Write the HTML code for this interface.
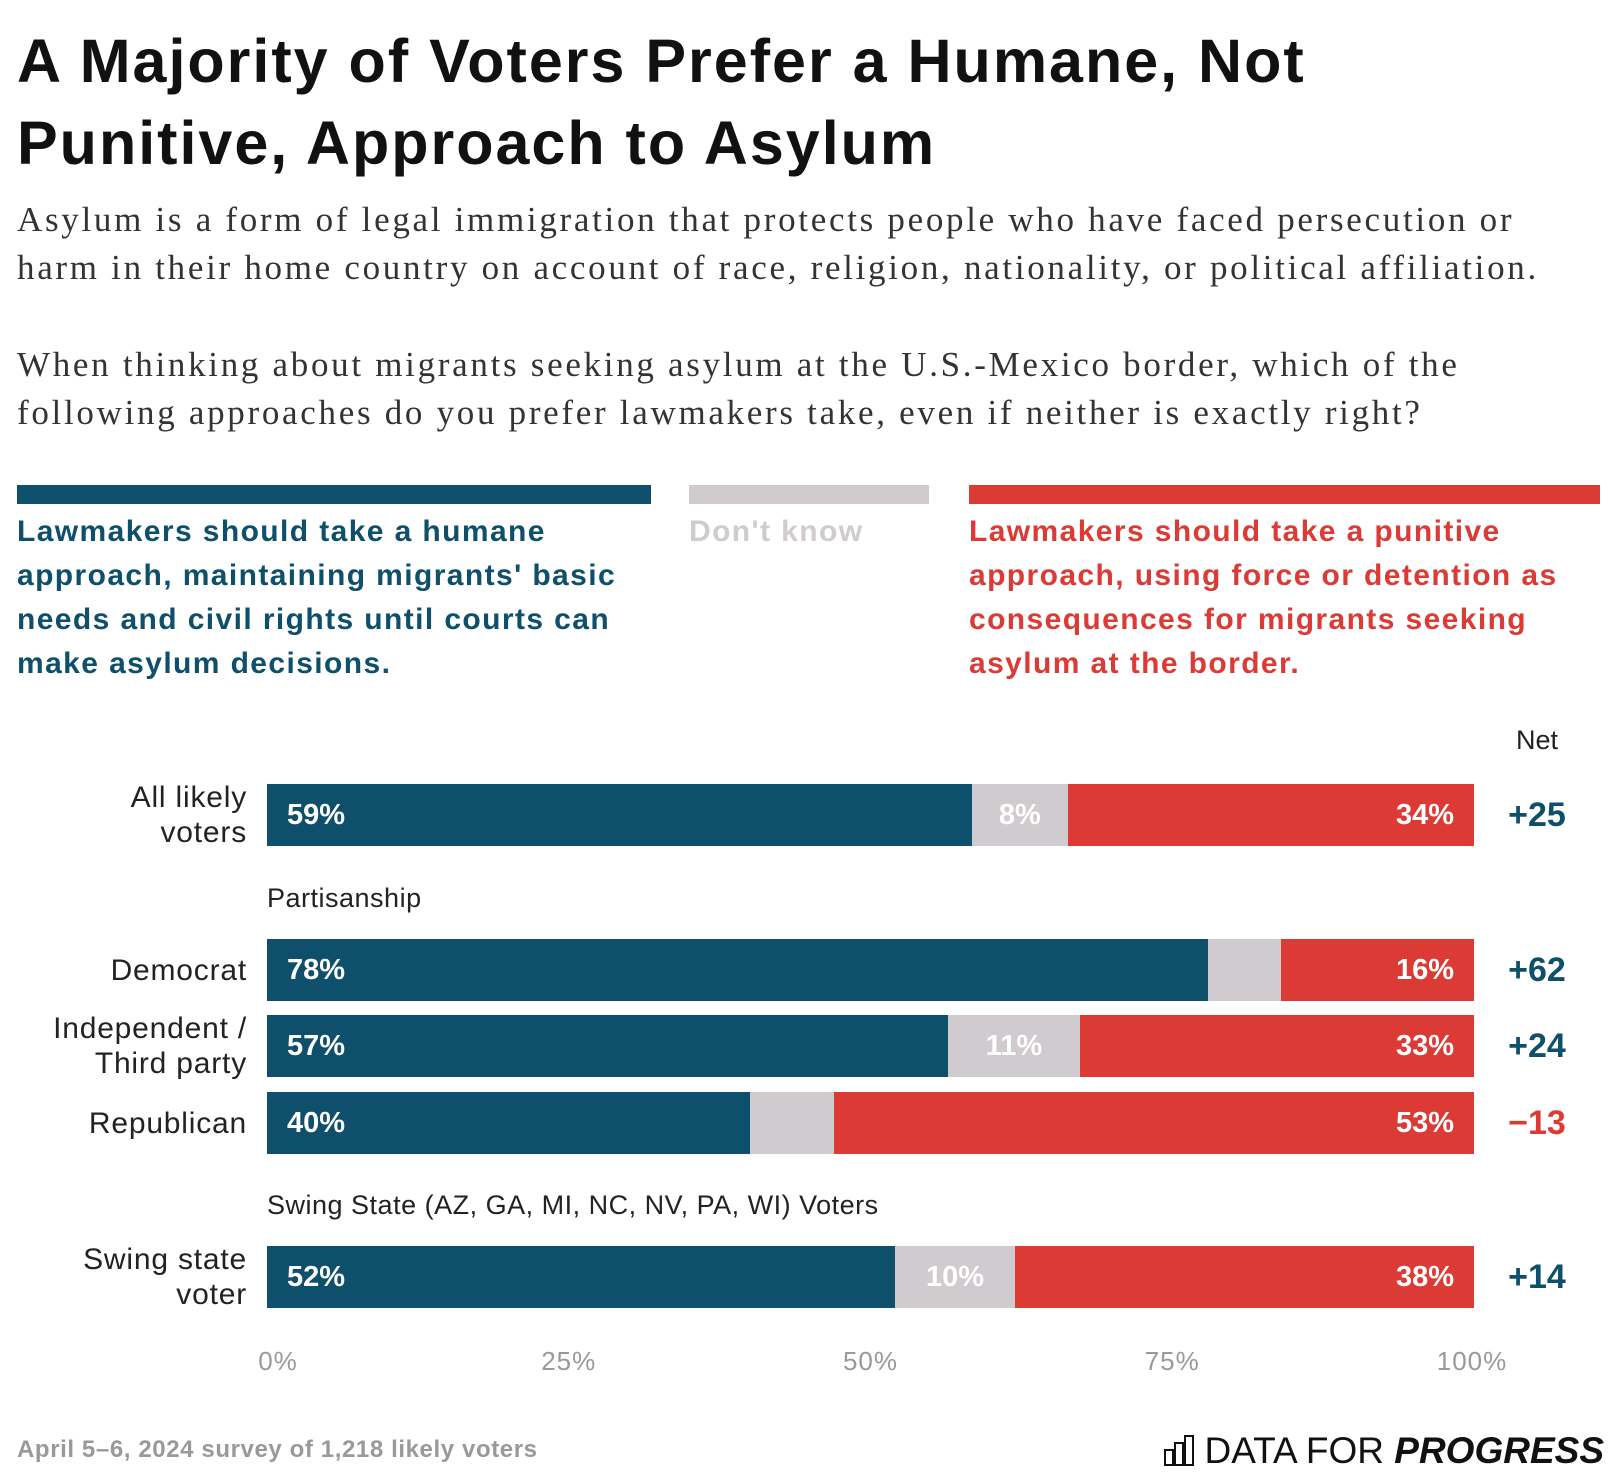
<!DOCTYPE html>
<html><head><meta charset="utf-8"><style>
body{margin:0;background:#fff;width:1616px;height:1482px;position:relative;overflow:hidden;font-family:"Liberation Sans",sans-serif}
.abs{position:absolute}
#title{left:17px;top:20px;font-size:61px;font-weight:bold;line-height:82px;color:#111;letter-spacing:2px}
.sub{left:17px;font-family:"Liberation Serif",serif;font-size:35px;line-height:48px;color:#333;letter-spacing:2.7px;white-space:nowrap}
.leg{font-size:30px;font-weight:bold;line-height:44px;letter-spacing:1.4px;white-space:nowrap}
.lab{font-size:30px;color:#222;text-align:right;right:1369px;line-height:35px;letter-spacing:0.8px}
.sec{font-size:27px;color:#222;letter-spacing:0.5px}
.val{font-size:29px;font-weight:bold;color:#fff}
.net{font-size:34px;font-weight:bold}
.tick{font-size:26px;color:#999;letter-spacing:1px}
</style></head><body>
<div id="title" class="abs">A Majority of Voters Prefer a Humane, Not<br>Punitive, Approach to Asylum</div>
<div class="abs sub" style="top:196px">Asylum is a form of legal immigration that protects people who have faced persecution or<br>harm in their home country on account of race, religion, nationality, or political affiliation.</div>
<div class="abs sub" style="top:341px">When thinking about migrants seeking asylum at the U.S.-Mexico border, which of the<br>following approaches do you prefer lawmakers take, even if neither is exactly right?</div>
<div class="abs" style="left:17px;top:485px;width:634px;height:19px;background:#0e4f6b"></div>
<div class="abs" style="left:689px;top:485px;width:240px;height:19px;background:#cfcbcf"></div>
<div class="abs" style="left:969px;top:485px;width:631px;height:19px;background:#db3a35"></div>
<div class="abs leg" style="left:17px;top:510px;color:#0e4f6b">Lawmakers should take a humane<br>approach, maintaining migrants' basic<br>needs and civil rights until courts can<br>make asylum decisions.</div>
<div class="abs leg" style="left:689px;top:510px;color:#cfcbcf">Don't know</div>
<div class="abs leg" style="left:969px;top:510px;color:#db3a35">Lawmakers should take a punitive<br>approach, using force or detention as<br>consequences for migrants seeking<br>asylum at the border.</div>
<div class="abs" style="left:1516px;top:725px;font-size:27px;color:#222">Net</div>
<div class="abs sec" style="left:267px;top:883px">Partisanship</div>
<div class="abs sec" style="left:267px;top:1190px">Swing State (AZ, GA, MI, NC, NV, PA, WI) Voters</div>
<div id="chart"></div>
<div class="abs" style="left:17px;top:1436px;font-size:24px;font-weight:bold;color:#999;letter-spacing:0.6px">April 5–6, 2024 survey of 1,218 likely voters</div>
<div class="abs" style="right:12px;top:1430px;font-size:37px;color:#111;white-space:nowrap"><span style="display:inline-block;vertical-align:-3px;margin-right:8px">
<svg width="32" height="32" viewBox="0 0 32 32"><rect x="1" y="16" width="8" height="15" fill="none" stroke="#111" stroke-width="2"/><rect x="11" y="9" width="8" height="22" fill="none" stroke="#111" stroke-width="2"/><rect x="21" y="2" width="8" height="29" fill="none" stroke="#111" stroke-width="2"/></svg></span>DATA FOR <b><i>PROGRESS</i></b></div>
<script>
const categories=[["All likely","voters"],["Democrat"],["Independent /","Third party"],["Republican"],["Swing state","voter"]];
const humane=[59,78,57,40,52];
const dontKnow=[8,6,11,7,10];
const punitive=[34,16,33,53,38];
const netValues=["+25","+62","+24","−13","+14"];
const tickLabels=["0%","25%","50%","75%","100%"];
const tickValues=[0,25,50,75,100];
const rowTops=[784,939,1015,1092,1246];
const X0=267,W=1207,BH=62;
const x=v=>X0+v/100*W;
const chart=document.getElementById('chart');
function div(css){const d=document.createElement('div');d.className='abs';d.style.cssText=css;chart.appendChild(d);return d;}
categories.forEach((c,i)=>{
 const t=rowTops[i],tot=humane[i]+dontKnow[i]+punitive[i];
 const segs=[[humane[i],'#0e4f6b','humane'],[dontKnow[i],'#cfcbcf','dont-know'],[punitive[i],'#db3a35','punitive']];
 let acc=0;
 segs.forEach((s,j)=>{
  const l=x(acc/tot*100),r=x((acc+s[0])/tot*100);acc+=s[0];
  const b=div(`left:${l}px;top:${t}px;width:${r-l}px;height:${BH}px;background:${s[1]}`);
  
  
  if(j==1&&s[0]<8)return;
  const v=div(`top:${t}px;line-height:${BH}px;`+(j==0?`left:${l+20}px`:j==2?`left:${r-120}px;width:100px;text-align:right`:`left:${l}px;width:${r-l}px;text-align:center`));
  v.className='abs val';v.textContent=s[0]+'%';
  
  
 });
 const lb=div(`top:${t+BH/2-c.length*17.5}px`);lb.className='abs lab';lb.innerHTML=c.join('<br>');
 
 
 const n=div(`left:1487px;width:100px;text-align:center;top:${t}px;line-height:${BH}px;color:${netValues[i].startsWith('−')?'#db3a35':'#0e4f6b'}`);
 n.className='abs net';n.textContent=netValues[i];
 
 
});
tickValues.forEach((v,i)=>{
 const tk=div(`left:${x(v)-50+(i==0?11:i==4?-2:0)}px;width:100px;text-align:center;top:1346px`);
 tk.className='abs tick';tk.textContent=tickLabels[i];
 
 
});
</script>
</body></html>
